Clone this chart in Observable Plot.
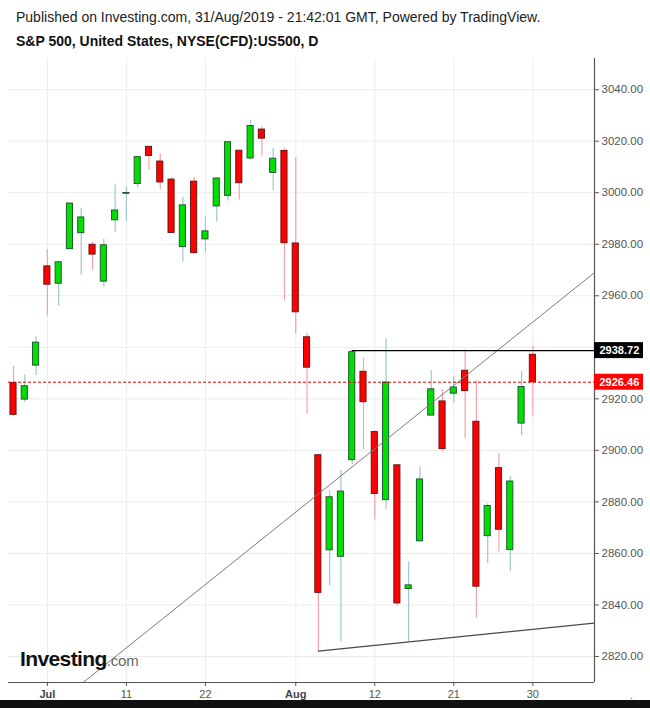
<!DOCTYPE html>
<html>
<head>
<meta charset="utf-8">
<script src="https://cdn.jsdelivr.net/npm/d3@7"></script>
<script src="https://cdn.jsdelivr.net/npm/@observablehq/plot@0.6"></script>
<style>
  html, body { margin: 0; padding: 0; background: #fff; }
  #wrap { position: relative; width: 650px; height: 708px; overflow: hidden; font-family: "Liberation Sans", Arial, sans-serif; }
  #head { height: 50px; position: relative; }
  .t1 { position: absolute; left: 16px; top: 9px; font-size: 14px; color: #222; white-space: nowrap; }
  .t2 { position: absolute; left: 16px; top: 33px; font-size: 14px; font-weight: bold; color: #111; white-space: nowrap; }
  #logo { position: absolute; left: 20px; top: 647px; white-space: nowrap; }
  #logo .inv { font-size: 21px; font-weight: bold; color: #111; letter-spacing: -0.6px; }
  #logo .com { font-size: 15px; color: #666; letter-spacing: -0.2px; }
  #bar { position: absolute; left: 0; top: 700px; width: 650px; height: 8px; background: #111; }
  svg { display: block; }
</style>
</head>
<body>
<div id="wrap">
  <div id="head">
    <div class="t1">Published on Investing.com, 31/Aug/2019 - 21:42:01 GMT, Powered by TradingView.</div>
    <div class="t2">S&amp;P 500, United States, NYSE(CFD):US500, D</div>
  </div>
  <div id="chart"></div>
  <div id="logo"><span class="inv">Investing</span><span class="com">.com</span></div>
  <div id="bar"></div>
</div>
<script>
// ---- Data (daily OHLC) ----
const dates = ["2019-06-26","2019-06-27","2019-06-28","2019-07-01","2019-07-02","2019-07-03","2019-07-05","2019-07-08","2019-07-09","2019-07-10","2019-07-11","2019-07-12","2019-07-15","2019-07-16","2019-07-17","2019-07-18","2019-07-19","2019-07-22","2019-07-23","2019-07-24","2019-07-25","2019-07-26","2019-07-29","2019-07-30","2019-07-31","2019-08-01","2019-08-02","2019-08-05","2019-08-06","2019-08-07","2019-08-08","2019-08-09","2019-08-12","2019-08-13","2019-08-14","2019-08-15","2019-08-16","2019-08-19","2019-08-20","2019-08-21","2019-08-22","2019-08-23","2019-08-26","2019-08-27","2019-08-28","2019-08-29","2019-08-30"];
const opens  = [2926.1,2919.7,2932.9,2971.4,2964.7,2978.1,2984.3,2979.8,2965.5,2989.3,2999.6,3003.4,3017.8,3012.1,3005.1,2978.9,3004.3,2981.9,2994.7,2998.8,3016.3,3013.3,3024.5,3007.7,3016.2,2980.3,2943.9,2898.1,2861.2,2858.7,2896.2,2930.5,2907.1,2880.7,2894.2,2846.2,2864.7,2913.5,2919.0,2922.0,2930.9,2911.1,2866.7,2893.1,2861.3,2910.4,2937.1];
const highs  = [2932.6,2929.3,2944.0,2977.9,2973.2,2995.8,2994.0,2980.8,2981.9,3003.0,3002.3,3013.9,3017.8,3015.0,3005.9,2998.3,3006.0,2990.7,3005.9,3019.6,3016.3,3028.0,3025.6,3017.2,3017.4,3013.6,2945.5,2898.1,2884.4,2892.2,2938.7,2935.8,2907.6,2943.3,2894.2,2856.7,2893.6,2931.0,2923.6,2928.7,2939.1,2927.0,2879.3,2898.8,2890.0,2930.5,2940.4];
const lows   = [2913.0,2918.6,2929.1,2952.2,2955.9,2978.0,2968.0,2970.1,2963.4,2984.6,2988.8,3001.9,3008.8,3001.2,2984.4,2973.1,2975.9,2976.7,2988.6,2996.8,2997.2,3012.6,3014.3,3000.9,2958.1,2945.2,2914.1,2822.1,2847.4,2825.7,2894.5,2900.2,2873.1,2877.1,2839.6,2825.5,2864.7,2913.5,2899.6,2918.4,2904.5,2835.0,2856.0,2860.6,2853.1,2905.7,2913.3];
const closes = [2913.8,2924.9,2941.8,2964.3,2973.0,2995.8,2990.4,2976.0,2979.6,2993.1,2999.9,3013.8,3014.3,3004.0,2984.4,2995.1,2976.6,2985.0,3005.5,3019.6,3003.7,3025.9,3021.0,3013.2,2980.4,2953.6,2932.1,2844.7,2881.8,2884.0,2938.1,2918.7,2883.1,2926.3,2840.6,2847.6,2888.7,2923.7,2900.5,2924.4,2923.0,2847.1,2878.4,2869.2,2887.9,2924.6,2926.5];

// axis ticks (2940 label is hidden behind the price tag in the original)
const yGrid = [2820,2840,2860,2880,2900,2920,2940,2960,2980,3000,3020,3040];
const yLabels = [2820,2840,2860,2880,2900,2920,2960,2980,3000,3020,3040];
const xTickDates  = ["2019-07-01","2019-07-11","2019-07-22","2019-08-01","2019-08-12","2019-08-21","2019-08-30"];
const xTickLabels = ["Jul","11","22","Aug","12","21","30"];
const xTickIsMonth = [true,false,false,true,false,false,false];

// annotations (drawn by the analyst): [trading-day index, price]
const riseLine    = [{i: 6.17, v: 2809.9}, {i: 51.46, v: 2969.0}];
const supportLine = [{i: 27,   v: 2822.1}, {i: 51.46, v: 2833.0}];
const resistance = {date: "2019-08-08", value: 2938.72};
const lastPrice = 2926.46;

// ---- Build tables ----
const candles = dates.map((d, i) => ({i, date: d, o: opens[i], h: highs[i], l: lows[i], c: closes[i]}));
const up = candles.filter(d => d.c >= d.o);
const down = candles.filter(d => d.c < d.o);
const xTicks = xTickDates.map((d, k) => ({i: dates.indexOf(d), label: xTickLabels[k], month: xTickIsMonth[k]}));

const xmin = -0.443, xmax = 51.46;
const ymin = 2809.9, ymax = 3052.1;
const half = 0.27;           // half body width in day units
const boxW = 4.34;           // price tag width in day units
const boxH = 3.1;            // price tag half height in price units

const green = "#00e000", greenEdge = "#1f5a30", greenWick = "#9ec6cf";
const red = "#ff0000", redEdge = "#6a1515", redWick = "#f5a1aa";

const tags = [
  {v: resistance.value, bg: "#000000"},
  {v: lastPrice, bg: "#ff0000"}
];

const chart = Plot.plot({
  width: 650,
  height: 658,
  marginTop: 8,
  marginBottom: 26,
  marginLeft: 8,
  marginRight: 56,
  x: {type: "linear", domain: [xmin, xmax], axis: null},
  y: {type: "linear", domain: [ymin, ymax], axis: null},
  style: {fontFamily: "'Liberation Sans', Arial, sans-serif", fontSize: "11.5px", background: "#fff", overflow: "visible"},
  marks: [
    Plot.gridY(yGrid, {stroke: "#ececec", strokeOpacity: 1}),
    Plot.gridX(xTicks.map(d => d.i), {stroke: "#ececec", strokeOpacity: 1}),
    // wicks
    Plot.ruleX(up,   {x: "i", y1: "l", y2: "h", stroke: greenWick, strokeWidth: 1.2}),
    Plot.ruleX(down, {x: "i", y1: "l", y2: "h", stroke: redWick, strokeWidth: 1.2}),
    // bodies
    Plot.rect(up,   {x1: d => d.i - half, x2: d => d.i + half, y1: "o", y2: "c", fill: green, stroke: greenEdge, strokeWidth: 1}),
    Plot.rect(down, {x1: d => d.i - half, x2: d => d.i + half, y1: "o", y2: "c", fill: red, stroke: redEdge, strokeWidth: 1}),
    // analyst lines
    Plot.line(riseLine, {x: "i", y: "v", stroke: "#7a7a7a", strokeWidth: 1, clip: true}),
    Plot.line(supportLine, {x: "i", y: "v", stroke: "#4a4a4a", strokeWidth: 1.3, clip: true}),
    Plot.ruleY([resistance.value], {x1: dates.indexOf(resistance.date), x2: xmax, stroke: "#000", strokeWidth: 1.2}),
    Plot.ruleY([lastPrice], {x1: xmin, x2: xmax, stroke: "#e00000", strokeWidth: 1, strokeDasharray: "3,2"}),
    // axes
    Plot.ruleX([xmax], {stroke: "#555", strokeWidth: 1.2}),
    Plot.ruleY([ymin], {stroke: "#555", strokeWidth: 1.2}),
    Plot.axisY(yLabels, {anchor: "right", tickSize: 4, tickPadding: 3, tickFormat: d3.format(".2f"), color: "#555", fontSize: "11.5px"}),
    Plot.axisX(xTicks.map(d => d.i), {anchor: "bottom", tickSize: 4, tickFormat: () => "", color: "#555"}),
    Plot.text(xTicks.filter(d => d.month), {x: "i", y: ymin, dy: 12, text: "label", fill: "#444", fontWeight: "bold", fontSize: 11}),
    Plot.text(xTicks.filter(d => !d.month), {x: "i", y: ymin, dy: 12, text: "label", fill: "#555", fontSize: 11}),
    // price tags
    Plot.rect(tags, {x1: xmax, x2: xmax + boxW, y1: d => d.v - boxH, y2: d => d.v + boxH, fill: "bg"}),
    Plot.text(tags, {x: xmax, y: "v", dx: 5, text: d => d.v.toFixed(2), textAnchor: "start", fill: "#fff", fontWeight: "bold", fontSize: 11})
  ]
});
document.getElementById("chart").appendChild(chart);
</script>
</body>
</html>
